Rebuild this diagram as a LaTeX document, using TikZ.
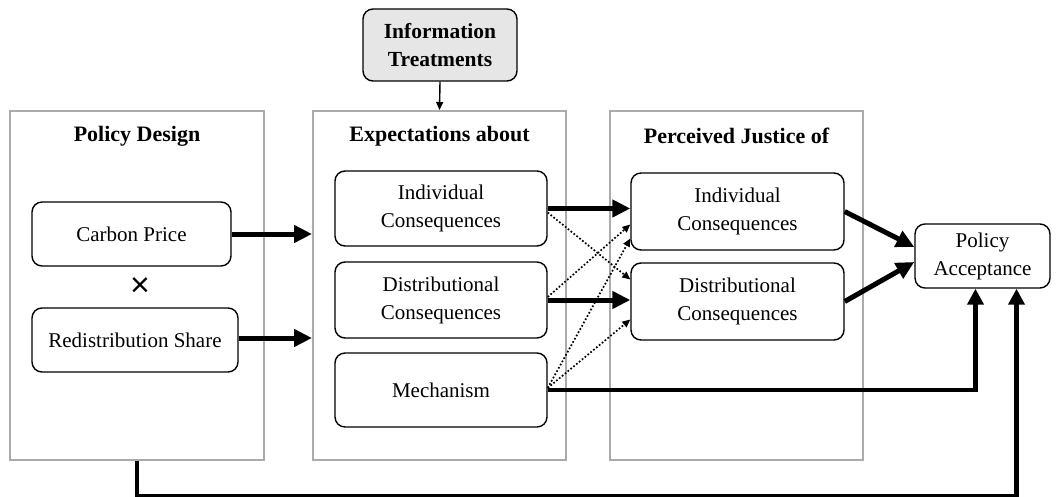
\documentclass[tikz,border=0pt]{standalone}
\usepackage{fontspec}
\setmainfont{Liberation Serif}
\newfontfamily\timesfont{Liberation Sans}
\usetikzlibrary{arrows.meta}
\definecolor{panelgray}{HTML}{ABABAB}
\definecolor{infogray}{HTML}{E6E6E6}
\begin{document}
\begin{tikzpicture}[x=1pt,y=-1pt,
  every node/.style={font=\fontsize{21}{28}\selectfont, align=center, inner sep=0pt},
  panel/.style={draw=panelgray, line width=2pt, minimum height=349pt},
  ptitle/.style={font=\fontsize{22}{28}\selectfont\bfseries},
  box/.style={draw=black, line width=1.4pt, rounded corners=10pt},
  bigarrow/.style={line width=5pt, -{Triangle[length=18pt,width=17pt]}},
  dotarrow/.style={line width=1.7pt, dotted, -{Triangle[length=8pt,width=7pt]}},
  loopline/.style={line width=4.5pt, -{Triangle[length=16pt,width=16pt]}}
]
\useasboundingbox (0,0) rectangle (1057,497);

% panels
\node[panel, minimum width=254pt] (p1) at (137,285.5) {};
\node[panel, minimum width=253pt] (p2) at (439.5,285.5) {};
\node[panel, minimum width=253pt] (p3) at (736.5,285.5) {};
\node[ptitle] (t1) at (137,136) {Policy Design};
\node[ptitle] (t2) at (439.5,136) {Expectations about};
\node[ptitle] (t3) at (736.5,136) {Perceived Justice of};

% info
\node[box, fill=infogray, minimum width=154pt, minimum height=72pt, font=\fontsize{21.5}{28}\selectfont\bfseries] (info) at (440,45) {Information\\Treatments};

% panel 1
\node[box, minimum width=199pt, minimum height=64pt] (carbon) at (131.5,234) {Carbon Price};
\node[font=\timesfont\fontsize{34}{34}\selectfont] (times) at (140,287) {×};
\node[box, minimum width=206pt, minimum height=64pt] (redis) at (135,340) {Redistribution Share};

% panel 2
\node[box, minimum width=212pt, minimum height=75pt] (ic2) at (441,208.5) {Individual\\Consequences};
\node[box, minimum width=212pt, minimum height=76pt] (dc2) at (441,300) {Distributional\\Consequences};
\node[box, minimum width=212pt, minimum height=74pt] (mech) at (441,390) {Mechanism};

% panel 3
\node[box, minimum width=213pt, minimum height=77pt] (ic3) at (737.5,211.5) {Individual\\Consequences};
\node[box, minimum width=213pt, minimum height=77pt] (dc3) at (737.5,301.5) {Distributional\\Consequences};

% policy acceptance
\node[box, minimum width=135pt, minimum height=64pt] (pa) at (982.5,256) {Policy\\Acceptance};

% connectors
\draw[line width=1.4pt, -{Triangle[length=8pt,width=7pt]}] (info.south) -- (p2.north);
\draw[bigarrow] (carbon.east) -- (carbon.east -| p2.west);
\draw[bigarrow] ([yshift=2pt]redis.east) -- ([yshift=2pt]redis.east -| p2.west);
\draw[bigarrow] (ic2.east) -- (ic2.east -| ic3.west);
\draw[bigarrow] (dc2.east) -- (dc2.east -| dc3.west);
\draw[dotarrow] ([yshift=-4pt]ic2.east) -- ([yshift=22pt]dc3.west);
\draw[dotarrow] ([yshift=3pt]dc2.east) -- ([yshift=-13pt]ic3.west);
\draw[dotarrow] ([yshift=2pt]mech.east) -- ([yshift=-27pt]ic3.west);
\draw[dotarrow] ([yshift=2pt]mech.east) -- ([yshift=-18pt]dc3.west);
\draw[bigarrow] (ic3.east) -- ([yshift=9pt]pa.west);
\draw[bigarrow] (dc3.east) -- ([yshift=-6pt]pa.west);
\draw[loopline] (mech.east) -| ([xshift=-7pt]pa.south);
\draw[loopline] (p1.south) -- ++(0,35) -| ([xshift=34pt]pa.south);
\end{tikzpicture}
\end{document}
